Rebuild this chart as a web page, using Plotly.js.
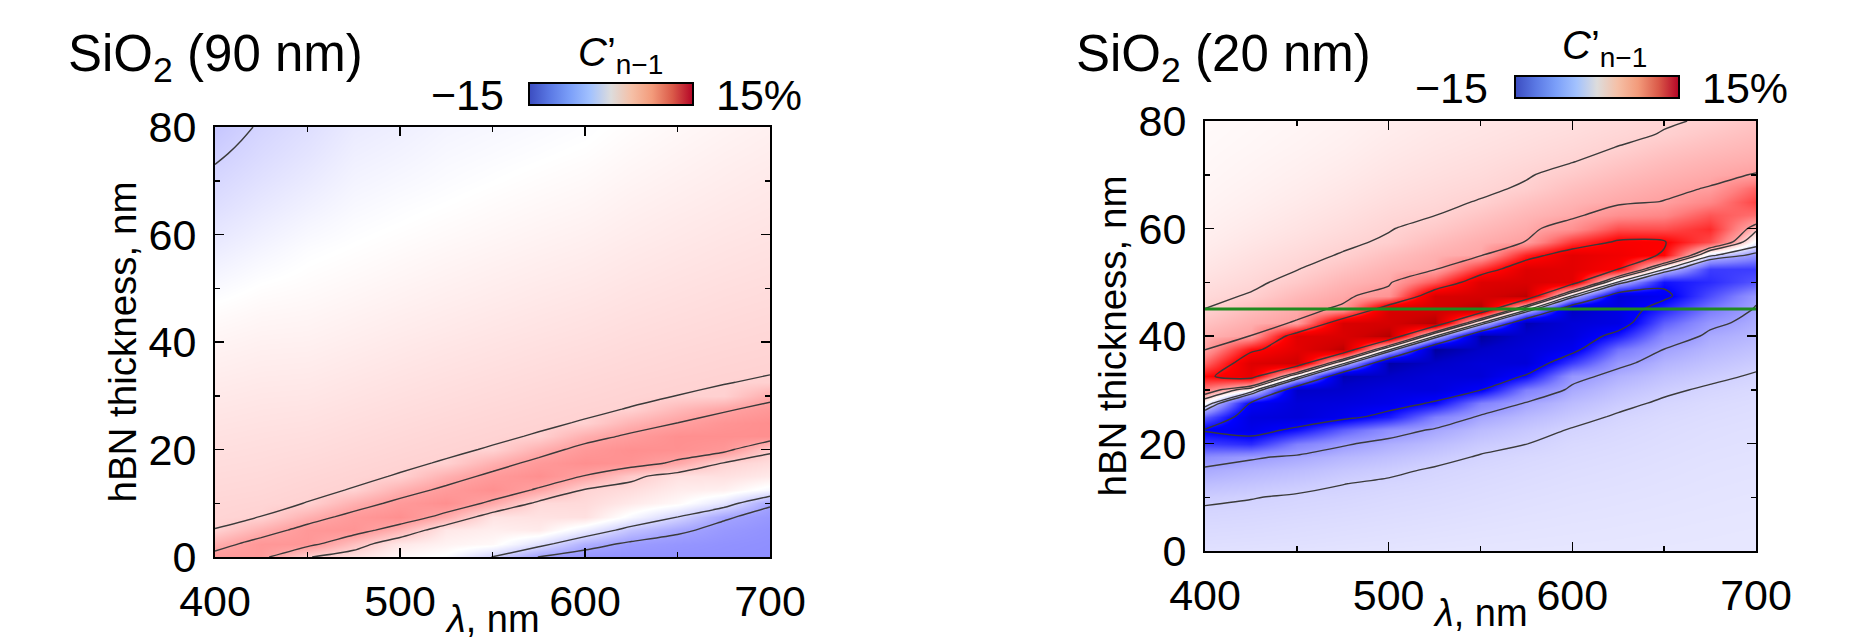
<!DOCTYPE html>
<html>
<head>
<meta charset="utf-8">
<script src="https://cdn.plot.ly/plotly-3.0.1.min.js"></script>
<style>
html,body{margin:0;padding:0;background:#fff;}
#chart{width:1862px;height:639px;}
</style>
</head>
<body>
<div id="chart"></div>
<script>
// wavelength grid (nm) and hBN thickness grid (nm)
const lambda = [400, 425, 450, 475, 500, 525, 550, 575, 600, 625, 650, 675, 700];
const thickness = [0, 2.5, 5, 7.5, 10, 12.5, 15, 17.5, 20, 22.5, 25, 27.5, 30, 32.5, 35, 37.5, 40,
  42.5, 45, 47.5, 50, 52.5, 55, 57.5, 60, 62.5, 65, 67.5, 70, 72.5, 75, 77.5, 80];

// C'_{n-1} (%) for SiO2 90 nm; one column per wavelength, thickness 0 -> 80
const z90 = [
  [5.6,4.24,2.52,2.35,2.25,2.12,2.0,1.88,1.76,1.63,1.5,1.36,1.22,1.07,0.92,0.77,0.6,0.43,0.22,-0.02,-0.3,-0.56,-0.82,-1.08,-1.33,-1.56,-1.8,-2.02,-2.22,-2.45,-2.68,-2.9,-3.1],
  [5.5,5.69,4.13,2.506,2.34,2.2,2.08,1.96,1.85,1.73,1.6,1.47,1.34,1.2,1.06,0.92,0.78,0.62,0.46,0.28,0.07,-0.15,-0.38,-0.6,-0.82,-1.04,-1.25,-1.46,-1.66,-1.85,-2.03,-2.2,-2.37],
  [2.6,5.7,5.655,4.167,2.517,2.375,2.23,2.09,1.95,1.81,1.67,1.53,1.38,1.24,1.1,0.96,0.82,0.68,0.54,0.4,0.25,0.11,-0.03,-0.17,-0.37,-0.57,-0.77,-0.96,-1.15,-1.33,-1.5,-1.66,-1.82],
  [1.6,3.4,5.9,5.556,4.167,2.528,2.39,2.25,2.11,1.97,1.84,1.7,1.56,1.42,1.28,1.14,1.0,0.87,0.73,0.59,0.45,0.31,0.17,0.04,-0.09,-0.22,-0.36,-0.5,-0.63,-0.76,-0.89,-1.02,-1.14],
  [0.4,1.3,3.98,6.3,5.469,4.167,2.539,2.403,2.27,2.13,2.0,1.86,1.73,1.59,1.46,1.32,1.19,1.05,0.92,0.78,0.65,0.51,0.38,0.24,0.11,-0.03,-0.14,-0.28,-0.41,-0.54,-0.66,-0.78,-0.9],
  [-0.2,0.7,1.3,4.39,6.3,5.4,4.15,2.543,2.41,2.28,2.15,2.01,1.88,1.75,1.62,1.49,1.36,1.22,1.09,0.96,0.83,0.7,0.57,0.44,0.3,0.17,0.04,-0.09,-0.2,-0.3,-0.4,-0.5,-0.6],
  [-2.55,0.34,0.93,1.516,4.59,6.3,5.459,4.184,2.541,2.413,2.29,2.16,2.03,1.9,1.77,1.64,1.52,1.39,1.26,1.13,1.0,0.88,0.75,0.62,0.49,0.36,0.24,0.11,-0.02,-0.13,-0.24,-0.34,-0.44],
  [-5.05,-1.695,1.13,1.6,2.071,4.752,6.3,5.52,4.219,2.54,2.415,2.29,2.17,2.04,1.92,1.79,1.67,1.54,1.42,1.29,1.17,1.04,0.92,0.79,0.67,0.54,0.42,0.29,0.17,0.04,-0.08,-0.19,-0.29],
  [-5.9,-4.17,-0.958,1.703,2.05,2.4,4.887,6.3,5.598,4.239,2.534,2.412,2.29,2.17,2.05,1.92,1.8,1.68,1.56,1.44,1.31,1.19,1.07,0.95,0.83,0.7,0.58,0.46,0.34,0.22,0.09,-0.03,-0.12],
  [-6.1,-5.3,-3.3,-0.4,1.2,1.9,2.9,5.99,6.3,5.307,4.031,2.5225,2.41,2.3,2.18,2.07,1.96,1.85,1.73,1.62,1.51,1.39,1.28,1.17,1.05,0.94,0.83,0.72,0.6,0.49,0.38,0.26,0.15],
  [-6.2,-5.8,-4.62,-2.45,0.33,1.05,1.675,4.62,6.2,6.3,4.98,3.775,2.504,2.399,2.29,2.19,2.08,1.98,1.87,1.77,1.66,1.56,1.45,1.35,1.24,1.14,1.03,0.92,0.82,0.71,0.61,0.5,0.4],
  [-6.3,-6.1,-5.6,-4.72,-1.455,0.82,1.7,2.45,5.64,6.3,5.92,4.71,2.58,2.484,2.386,2.29,2.19,2.09,1.99,1.9,1.8,1.7,1.6,1.51,1.41,1.31,1.21,1.11,1.01,0.92,0.82,0.72,0.62],
  [-6.4,-6.3,-6.1,-5.7,-4.73,-0.5,1.2,1.95,2.76,6.3,6.4,5.64,4.41,2.55,2.46,2.37,2.28,2.19,2.1,2.0,1.91,1.82,1.73,1.64,1.55,1.46,1.37,1.28,1.19,1.1,1.0,0.91,0.82]
];

// C'_{n-1} (%) for SiO2 20 nm; one column per wavelength, thickness 0 -> 80
const z20 = [
  [-1.7,-1.9,-2.1,-2.35,-2.75,-3.5,-4.5,-6.5,-11.5,-15.4,-9.5,0.1,7.5,14.3,9.0,4.9,4.1,3.3,2.52,2.1,1.75,1.45,1.2,1.0,0.85,0.72,0.62,0.53,0.46,0.4,0.35,0.3,0.26],
  [-1.65,-1.85,-2.05,-2.25,-2.55,-3.2,-4.0,-5.3,-12.5,-17,-18,-15.5,0.2,17.5,18.5,14,5.03,4.29,3.54,2.62,2.2,1.92,1.65,1.4,1.2,1.02,0.88,0.76,0.66,0.58,0.5,0.44,0.39],
  [-1.6,-1.8,-1.95,-2.15,-2.35,-2.9,-3.6,-4.6,-7.5,-14,-18.5,-18.5,-20,-0.8,20,18,18.1,5.14,4.44,3.75,2.95,2.44,2.1,1.8,1.55,1.35,1.17,1.02,0.89,0.78,0.68,0.6,0.53],
  [-1.55,-1.72,-1.88,-2.05,-2.25,-2.52,-3.1,-3.9,-5.3,-9.5,-16.5,-18,-19.5,-21,-1,21,19,19,5.3,4.58,3.92,3.26,2.6,2.25,1.95,1.7,1.5,1.32,1.16,1.02,0.9,0.8,0.72],
  [-1.5,-1.65,-1.8,-1.95,-2.1,-2.3,-2.75,-3.4,-4.3,-6.2,-13.5,-17,-18,-20,-21.5,-1.5,21.5,19.5,19,6,4.6,4.07,3.43,2.68,2.42,2.15,1.9,1.68,1.5,1.34,1.2,1.07,0.96],
  [-1.45,-1.58,-1.72,-1.86,-2.0,-2.15,-2.35,-2.9,-3.6,-4.7,-7.5,-14.5,-18,-18.5,-20,-22,-2,21.5,19.5,19,10,4.6,4.2,3.59,2.98,2.47,2.2,1.97,1.77,1.6,1.45,1.32,1.2],
  [-1.42,-1.52,-1.64,-1.76,-1.88,-2.0,-2.15,-2.4,-2.9,-3.6,-4.7,-7.5,-15.2,-18.5,-18.5,-20,-22,-1.5,21.5,19.5,18.5,12,4.7,4.32,3.74,3.15,2.57,2.25,2.02,1.83,1.66,1.51,1.39],
  [-1.4,-1.48,-1.57,-1.67,-1.77,-1.88,-2.0,-2.15,-2.52,-3.0,-3.7,-4.8,-7.5,-14.5,-18.5,-18.5,-19.5,-21,-1,21,19,18.5,13.06,5.05,4.44,3.88,3.33,2.65,2.4,2.12,1.9,1.72,1.57],
  [-1.38,-1.45,-1.52,-1.6,-1.68,-1.77,-1.87,-1.98,-2.12,-2.4,-2.95,-3.6,-4.5,-5.8,-11.5,-16.5,-18,-18.5,-20.5,-2.6,18,18,17.9,11.83,6.2,4.53,3.99,3.46,2.93,2.45,2.18,1.95,1.76],
  [-1.36,-1.42,-1.48,-1.55,-1.62,-1.7,-1.78,-1.87,-1.98,-2.12,-2.35,-2.85,-3.4,-4.2,-5.6,-8.5,-13.5,-17.5,-17.5,-18.5,-3,15.2,16.5,15.6,10.6,6.3,4.56,4.05,3.55,3.04,2.54,2.25,2.02],
  [-1.34,-1.39,-1.44,-1.5,-1.56,-1.62,-1.69,-1.76,-1.84,-1.93,-2.05,-2.3,-2.75,-3.3,-4.0,-4.95,-6.8,-9.5,-13,-16,-14,-2,14.7,15.3,10.5,7,5.05,4.56,4.08,3.6,3.12,2.56,2.4],
  [-1.32,-1.36,-1.4,-1.45,-1.5,-1.55,-1.6,-1.66,-1.73,-1.8,-1.9,-2.03,-2.3,-2.8,-3.3,-3.9,-4.5,-5.6,-8,-10.5,-12.5,-11.5,-2,10.5,12.5,10,7,5.1,4.52,4.04,3.56,3.08,2.6],
  [-1.3,-1.33,-1.37,-1.41,-1.45,-1.5,-1.55,-1.6,-1.66,-1.72,-1.8,-1.9,-2.05,-2.35,-2.8,-3.3,-3.8,-4.3,-4.75,-5.6,-10,-11.5,-6,-0.6,3.3,8.5,11,9,5.1,4.4,3.95,3.55,3.2]
];

const contourLevels = [-15, -5, -2.5, 2.5, 5, 15];
const colorbarRange = [-15, 15];
const markedThickness = 45;   // green line, SiO2 20 nm panel
const panelTitles = ['SiO<sub>2</sub> (90 nm)', 'SiO<sub>2</sub> (20 nm)'];
const colorbarLabels = ['−15', '15%'];
const colorbarTitle = '<i>C</i>’<sub>n−1</sub>';
const xTitle = '<i>λ</i>, nm';
const yTitle = 'hBN thickness, nm';

const FONT = 'Liberation Sans, Arial, Helvetica, sans-serif';
const W = 1862, H = 639;

// heat-map palette, given at C' values (%)
const heatStops = [[-27, '#000030'], [-20, '#0000c8'], [-15, '#0000ff'], [-7.5, '#8080ff'], [-5, '#a0a0ff'],
  [-2.5, '#d2d2ff'], [0, '#ffffff'], [2.5, '#ffd2d2'], [5, '#ffa0a0'], [7.5, '#ff8080'], [15, '#ff0000'],
  [20, '#d00000'], [27, '#500000']];
const HMIN = heatStops[0][0], HMAX = heatStops[heatStops.length - 1][0];
const heatScale = heatStops.map(s => [(s[0] - HMIN) / (HMAX - HMIN), s[1]]);
const coolwarm = [
  [0, '#3b4cc0'], [0.125, '#5a78e4'], [0.25, '#7b9ff9'], [0.375, '#a3c2fe'],
  [0.5, '#dddcdc'], [0.625, '#f5c0a7'], [0.75, '#f39b7b'], [0.875, '#da5a49'], [1, '#b40426']
];

function heat(z, xa, ya) {
  return {type: 'heatmap', x: lambda, y: thickness, z: z, transpose: true, zsmooth: 'best',
    colorscale: heatScale, zmin: HMIN, zmax: HMAX, showscale: false, hoverinfo: 'skip',
    xaxis: xa, yaxis: ya};
}
function contourSet(z, xa, ya) {
  return contourLevels.map(L => ({
    type: 'contour', x: lambda, y: thickness, z: z, transpose: true,
    autocontour: false, contours: {start: L, end: L, size: 1, coloring: 'none', showlabels: false},
    line: {color: '#3a3a3a', width: 1.4, smoothing: 0.8},
    showscale: false, showlegend: false, hoverinfo: 'skip', xaxis: xa, yaxis: ya
  }));
}
function cbar(xa, ya, xpx, ypxBottom) {
  return {type: 'scatter', mode: 'markers', x: [null, null], y: [null, null], xaxis: xa, yaxis: ya,
    hoverinfo: 'skip', showlegend: false,
    marker: {color: colorbarRange, cmin: colorbarRange[0], cmax: colorbarRange[1], colorscale: coolwarm,
      showscale: true,
      colorbar: {orientation: 'h', lenmode: 'pixels', len: 164, thickness: 22,
        x: xpx / W, xanchor: 'left', y: 1 - ypxBottom / H, yanchor: 'bottom',
        xpad: 0, ypad: 0, outlinewidth: 2, outlinecolor: '#000', borderwidth: 0,
        showticklabels: false, ticks: ''}}};
}

const data = [
  heat(z90, 'x', 'y'), ...contourSet(z90, 'x', 'y'),
  heat(z20, 'x2', 'y2'), ...contourSet(z20, 'x2', 'y2'),
  cbar('x', 'y', 529, 107), cbar('x2', 'y2', 1515, 100)
];

function xax(domain, anchor) {
  return {domain: domain, anchor: anchor, range: [400, 700], tickmode: 'linear', tick0: 400, dtick: 100,
    showline: true, linecolor: '#000', linewidth: 2, mirror: 'ticks',
    ticks: 'inside', ticklen: 9, tickwidth: 1.5, tickcolor: '#000', ticklabelstandoff: 5,
    minor: {dtick: 50, ticks: 'inside', ticklen: 5, tickwidth: 1.5, tickcolor: '#000', showgrid: false},
    showgrid: false, zeroline: false,
    tickfont: {family: FONT, size: 43, color: '#000'}};
}
function yax(domain, anchor) {
  return {domain: domain, anchor: anchor, range: [0, 80], tickmode: 'linear', tick0: 0, dtick: 20,
    showline: true, linecolor: '#000', linewidth: 2, mirror: 'ticks',
    ticks: 'inside', ticklen: 9, tickwidth: 1.5, tickcolor: '#000', ticklabelstandoff: 8,
    minor: {dtick: 10, ticks: 'inside', ticklen: 5, tickwidth: 1.5, tickcolor: '#000', showgrid: false},
    showgrid: false, zeroline: false,
    tickfont: {family: FONT, size: 43, color: '#000'},
    title: {text: yTitle, font: {family: FONT, size: 38.5, color: '#000'}, standoff: 0}};
}

function ann(text, xpx, ypx, xanchor, size, yanchor) {
  return {text: text, x: xpx / W, y: 1 - ypx / H, xref: 'paper', yref: 'paper',
    xanchor: xanchor, yanchor: yanchor || 'middle', showarrow: false,
    font: {family: FONT, size: size, color: '#000'}};
}

const layout = {
  width: W, height: H, margin: {l: 0, r: 0, t: 0, b: 0},
  paper_bgcolor: '#fff', plot_bgcolor: '#fff', showlegend: false,
  font: {family: FONT, color: '#000'},
  xaxis: xax([215 / W, 770 / W], 'y'),
  yaxis: yax([1 - 557 / H, 1 - 127 / H], 'x'),
  xaxis2: xax([1205 / W, 1756 / W], 'y2'),
  yaxis2: yax([1 - 551 / H, 1 - 121 / H], 'x2'),
  shapes: [{type: 'line', xref: 'x2 domain', x0: 0, x1: 1, yref: 'y2', y0: markedThickness, y1: markedThickness,
    line: {color: '#1f8a1f', width: 3}, layer: 'above'}],
  annotations: [
    ann(panelTitles[0], 66, 58, 'left', 51),
    ann(panelTitles[1], 1074, 58, 'left', 51),
    ann(colorbarLabels[0], 506, 95, 'right', 43),
    ann(colorbarLabels[1], 714, 95, 'left', 43),
    ann(colorbarLabels[0], 1490, 88, 'right', 43),
    ann(colorbarLabels[1], 1700, 88, 'left', 43),
    ann(colorbarTitle, 576, 55, 'left', 40),
    ann(colorbarTitle, 1560, 48, 'left', 40),
    ann(xTitle, 492, 596, 'center', 38, 'top'),
    ann(xTitle, 1480, 590, 'center', 38, 'top')
  ]
};

Plotly.newPlot('chart', data, layout, {staticPlot: true, displayModeBar: false});
</script>
</body>
</html>
